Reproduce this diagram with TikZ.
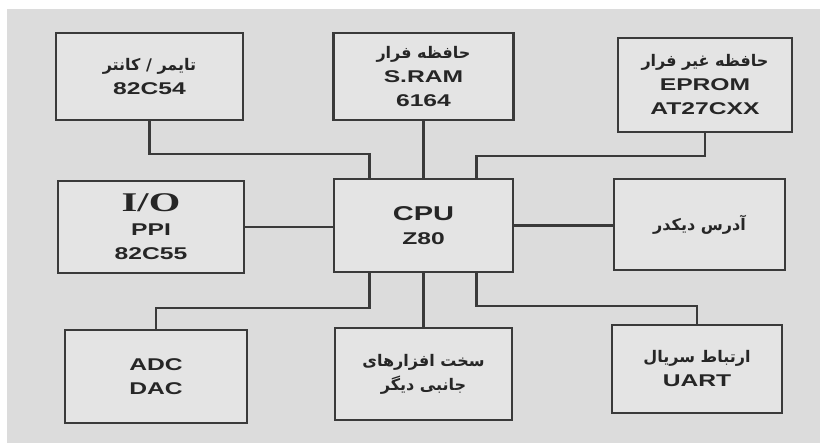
\documentclass[tikz,border=0pt]{standalone}
\usepackage{fontspec}
\setmainfont{Liberation Sans}
\newfontfamily\farsifont[Script=Arabic]{DejaVu Sans}
\newfontfamily\latinfont[FakeStretch=1.45]{Liberation Sans}
\newfontfamily\iofont[FakeStretch=1.5]{Liberation Serif}
\TeXXeTstate=1
\newcommand{\fatxt}[1]{{\farsifont\bfseries\fontsize{16}{26}\selectfont\beginR #1\endR}}
\newcommand{\entxt}[1]{{\latinfont\bfseries #1}}
\definecolor{bgray}{HTML}{DCDCDC}
\definecolor{boxgray}{HTML}{E4E4E4}
\definecolor{inkgray}{HTML}{3A3A3A}

\begin{document}
\begin{tikzpicture}[x=1pt, y=-1pt, line width=2.4pt,
  blk/.style={draw=inkgray, fill=boxgray, inner sep=0pt, align=center,
    text=black!85, font=\fontsize{17}{24}\selectfont},
  wire/.style={draw=inkgray}]
  \useasboundingbox (0,0) rectangle (820,443);
  \fill[white] (0,0) rectangle (820,443);
  \fill[bgray] (7,9) rectangle (820,443);

  % top row
  \node[blk, minimum width=187pt, minimum height=87pt] (timer) at (149.5,76.5)
    {\fatxt{تایمر / کانتر}\\ \entxt{82C54}};
  \node[blk, minimum width=180pt, minimum height=87pt] (sram) at (423.5,76.5)
    {\fatxt{حافظه فرار}\\ \entxt{S.RAM}\\ \entxt{6164}};
  \node[blk, minimum width=174pt, minimum height=94pt] (eprom) at (705,85)
    {\fatxt{حافظه غیر فرار}\\ \entxt{EPROM}\\ \entxt{AT27CXX}};

  % middle row
  \node[blk, minimum width=186pt, minimum height=92pt] (io) at (151,227)
    {{\iofont\bfseries\fontsize{27}{28}\selectfont I/O}\\ \entxt{PPI}\\ \entxt{82C55}};
  \node[blk, minimum width=179pt, minimum height=93pt] (cpu) at (423.5,225.5)
    {{\latinfont\bfseries\fontsize{20}{24}\selectfont CPU}\\ \entxt{Z80}};
  \node[blk, minimum width=171pt, minimum height=91pt] (dec) at (699.5,224.5)
    {\fatxt{آدرس دیکدر}};

  % bottom row
  \node[blk, minimum width=182pt, minimum height=93pt] (adc) at (156,376.5)
    {\entxt{ADC}\\ \entxt{DAC}};
  \node[blk, minimum width=177pt, minimum height=92pt] (per) at (423.5,374)
    {\fatxt{سخت افزارهای}\\ \fatxt{جانبی دیگر}};
  \node[blk, minimum width=170pt, minimum height=88pt] (uart) at (697,369)
    {\fatxt{ارتباط سریال}\\ \entxt{UART}};

  % buses to the CPU
  \draw[wire] (timer.south) |- ([xshift=-54pt, yshift=24pt]cpu.north) -- ([xshift=-54pt]cpu.north);
  \draw[wire] (sram.south) -- (sram.south |- cpu.north);
  \draw[wire] (eprom.south) |- ([xshift=53pt, yshift=22pt]cpu.north) -- ([xshift=53pt]cpu.north);
  \draw[wire] (io.east) -- (io.east -| cpu.west);
  \draw[wire] (cpu.east) -- (cpu.east -| dec.west);
  \draw[wire] ([xshift=-54pt]cpu.south) |- ([yshift=-35pt]cpu.south -| adc.north) -- (adc.north);
  \draw[wire] (cpu.south) -- (cpu.south |- per.north);
  \draw[wire] ([xshift=53pt]cpu.south) |- ([yshift=-33pt]cpu.south -| uart.north) -- (uart.north);
\end{tikzpicture}
\end{document}
